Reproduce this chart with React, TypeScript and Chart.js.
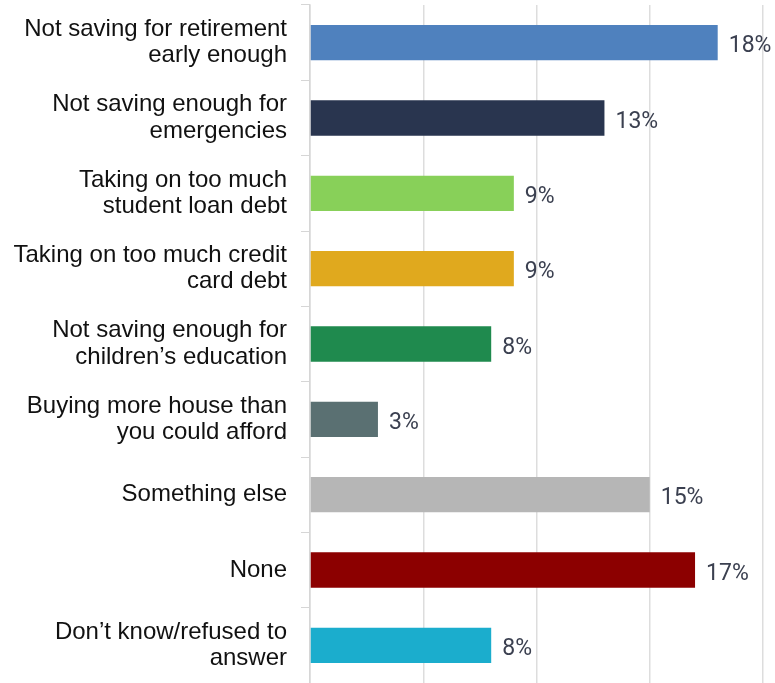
import React, { useEffect, useRef } from "react";
import { Chart, registerables } from "chart.js";

Chart.register(...registerables);

const categories: string[][] = [
  ["Not saving for retirement", "early enough"],
  ["Not saving enough for", "emergencies"],
  ["Taking on too much", "student loan debt"],
  ["Taking on too much credit", "card debt"],
  ["Not saving enough for", "children\u2019s education"],
  ["Buying more house than", "you could afford"],
  ["Something else"],
  ["None"],
  ["Don\u2019t know/refused to", "answer"],
];

const values: number[] = [18, 13, 9, 9, 8, 3, 15, 17, 8];

const barColors: string[] = [
  "#4f81be",
  "#29354f",
  "#88d059",
  "#e0a91e",
  "#1f8a4e",
  "#5a7072",
  "#b6b6b6",
  "#8c0000",
  "#1badcd",
];

const xTicks: number[] = [0, 5, 10, 15, 20];

const valueLabelPlugin = {
  id: "valueLabels",
  afterDatasetsDraw(chart: any) {
    const ctx = chart.ctx;
    const meta = chart.getDatasetMeta(0);
    ctx.save();
    ctx.font = "23px Roboto, Arial, sans-serif";
    ctx.fillStyle = "#3b4050";
    ctx.textAlign = "left";
    ctx.textBaseline = "middle";
    meta.data.forEach((bar: any, i: number) => {
      ctx.fillText(values[i] + "%", bar.x + 11, bar.y + 4);
    });
    ctx.restore();
  },
};

export default function App() {
  const ref = useRef<HTMLCanvasElement>(null);

  useEffect(() => {
    document.body.style.margin = "0";
    if (!ref.current) return;
    const chart = new Chart(ref.current, {
      type: "bar",
      data: {
        labels: categories,
        datasets: [
          {
            data: values,
            backgroundColor: barColors,
            borderWidth: 0,
            barPercentage: 0.47,
            categoryPercentage: 1,
          },
        ],
      },
      options: {
        indexAxis: "y",
        animation: false,
        responsive: false,
        maintainAspectRatio: false,
        layout: { padding: { top: 5, right: 12, bottom: 0, left: 0 } },
        plugins: {
          legend: { display: false },
          tooltip: { enabled: false },
        },
        scales: {
          x: {
            min: xTicks[0],
            max: xTicks[xTicks.length - 1],
            afterBuildTicks: (axis: any) => {
              axis.ticks = xTicks.map((v) => ({ value: v }));
            },
            ticks: { display: false },
            grid: {
              color: "#dddddd",
              lineWidth: 1.5,
              drawTicks: false,
            },
            border: { display: false },
          },
          y: {
            afterFit: (axis: any) => {
              axis.width = 310;
              axis.paddingTop = 0;
              axis.paddingBottom = 0;
            },
            ticks: {
              color: "#111111",
              font: { family: "Arial, 'Liberation Sans', sans-serif", size: 24, lineHeight: 1.1 },
              padding: 14,
              autoSkip: false,
            },
            grid: {
              drawOnChartArea: false,
              drawTicks: true,
              tickLength: 9,
              color: "#d6d6d6",
            },
            border: { display: true, color: "#d6d6d6", width: 1.5 },
          },
        },
      },
      plugins: [valueLabelPlugin],
    });
    return () => chart.destroy();
  }, []);

  return (
    <div style={{ width: 775, height: 683 }}>
      <canvas ref={ref} width={775} height={683} style={{ display: "block" }} />
    </div>
  );
}
